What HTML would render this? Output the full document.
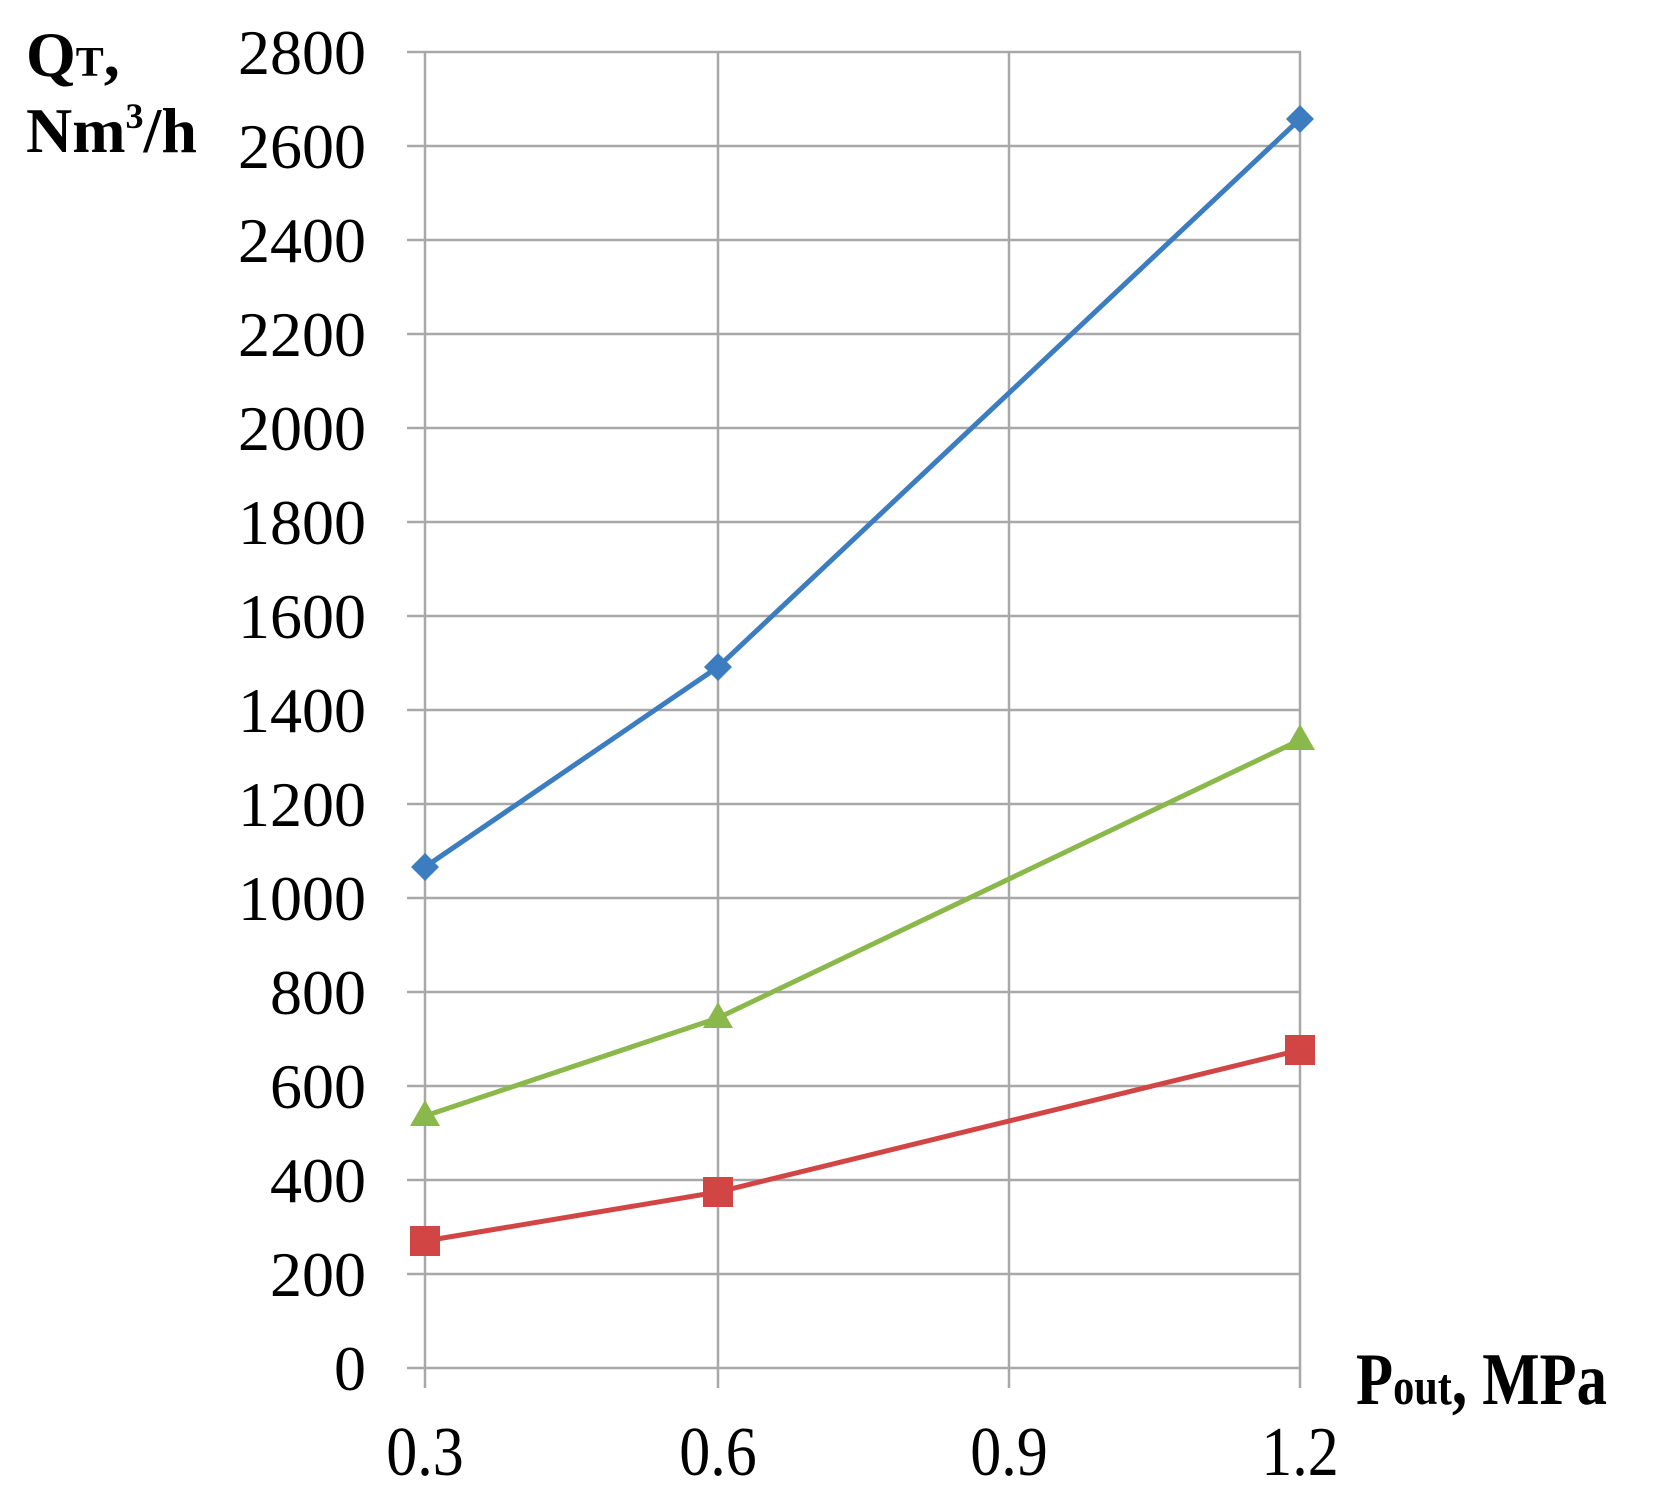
<!DOCTYPE html>
<html><head><style>body{margin:0;background:#fff}</style></head><body>
<svg width="1665" height="1498" xmlns="http://www.w3.org/2000/svg" font-family="Liberation Serif, serif">
<g stroke="#a8a8a8" stroke-width="2.5">
<line x1="407" y1="52" x2="1301" y2="52"/><line x1="407" y1="146" x2="1301" y2="146"/><line x1="407" y1="240" x2="1301" y2="240"/><line x1="407" y1="334" x2="1301" y2="334"/><line x1="407" y1="428" x2="1301" y2="428"/><line x1="407" y1="522" x2="1301" y2="522"/><line x1="407" y1="616" x2="1301" y2="616"/><line x1="407" y1="710" x2="1301" y2="710"/><line x1="407" y1="804" x2="1301" y2="804"/><line x1="407" y1="898" x2="1301" y2="898"/><line x1="407" y1="992" x2="1301" y2="992"/><line x1="407" y1="1086" x2="1301" y2="1086"/><line x1="407" y1="1180" x2="1301" y2="1180"/><line x1="407" y1="1274" x2="1301" y2="1274"/><line x1="407" y1="1368" x2="1301" y2="1368"/>
<line x1="425" y1="52" x2="425" y2="1388"/><line x1="718" y1="52" x2="718" y2="1388"/><line x1="1009" y1="52" x2="1009" y2="1388"/><line x1="1300" y1="52" x2="1300" y2="1388"/>
</g>
<g font-size="64" text-anchor="end" fill="#000">
<text x="366" y="74">2800</text><text x="366" y="168">2600</text><text x="366" y="262">2400</text><text x="366" y="356">2200</text><text x="366" y="450">2000</text><text x="366" y="544">1800</text><text x="366" y="638">1600</text><text x="366" y="732">1400</text><text x="366" y="826">1200</text><text x="366" y="920">1000</text><text x="366" y="1014">800</text><text x="366" y="1108">600</text><text x="366" y="1202">400</text><text x="366" y="1296">200</text><text x="366" y="1390">0</text>
</g>
<g font-size="62" text-anchor="middle" transform="translate(0,1475) scale(1,1.12)">
<text x="425" y="0">0.3</text><text x="718" y="0">0.6</text><text x="1009" y="0">0.9</text><text x="1300" y="0">1.2</text>
</g>
<g font-weight="bold">
<text x="26" y="76" font-size="64">Q<tspan font-size="42">T</tspan>,</text>
<text x="26" y="152" font-size="64">Nm<tspan font-size="36" dy="-24">3</tspan><tspan dy="24">/h</tspan></text>
<text transform="translate(1356,1404) scale(0.92,1.12)" font-size="66">P<tspan font-size="46">out</tspan>, MPa</text>
</g>
<polyline points="425,867 718,667 1300,119" fill="none" stroke="#3b7dc0" stroke-width="5"/>
<polyline points="425,1116 718,1018 1300,740" fill="none" stroke="#8bb84b" stroke-width="5"/>
<polyline points="425,1241 718,1192 1300,1050" fill="none" stroke="#d24545" stroke-width="5"/>
<g fill="#3b7dc0"><path d="M425,853 l14,14 -14,14 -14,-14z"/><path d="M718,653 l14,14 -14,14 -14,-14z"/><path d="M1300,105 l14,14 -14,14 -14,-14z"/></g>
<g fill="#8bb84b"><path d="M425,1100 l15,26 -30,0z"/><path d="M718,1002 l15,26 -30,0z"/><path d="M1300,724 l15,26 -30,0z"/></g>
<g fill="#d24545"><rect x="410" y="1226" width="30" height="30"/><rect x="703" y="1177" width="30" height="30"/><rect x="1285" y="1035" width="30" height="30"/></g>
</svg>
</body></html>
